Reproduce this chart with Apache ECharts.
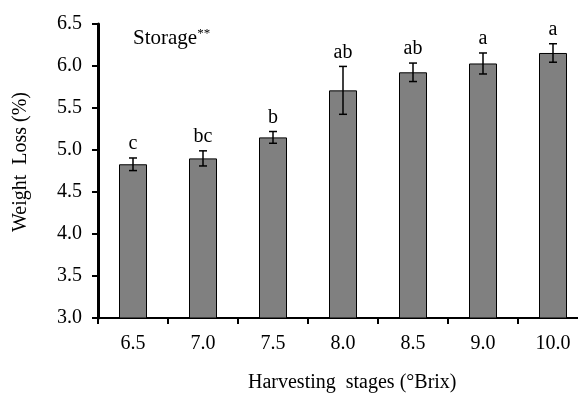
<!DOCTYPE html>
<html>
<head>
<meta charset="utf-8">
<script src="https://cdn.jsdelivr.net/npm/echarts@6/dist/echarts.min.js"></script>
<style>html,body{margin:0;padding:0;background:#fff;overflow:hidden;width:578px;height:395px;}#c{width:600px;height:395px;}</style>
</head>
<body>
<div id="c"></div>
<script>
var categories = ['6.5', '7.0', '7.5', '8.0', '8.5', '9.0', '10.0'];
var weightLoss = [4.83, 4.90, 5.15, 5.71, 5.925, 6.03, 6.155];
var errors = [0.075, 0.09, 0.07, 0.285, 0.11, 0.125, 0.11];
var letters = ['c', 'bc', 'b', 'ab', 'ab', 'a', 'a'];

var FONT = '"Liberation Serif", "Times New Roman", serif';
var chart = echarts.init(document.getElementById('c'), null, {renderer: 'canvas'});

var errData = categories.map(function (c, i) { return [i, weightLoss[i], errors[i]]; });

chart.setOption({
  animation: false,
  backgroundColor: '#fff',
  textStyle: {fontFamily: FONT, color: '#000'},
  grid: {left: 98, top: 24, right: 12, bottom: 77, containLabel: false},
  title: {
    left: 128, top: 22,
    text: '{a|Storage}{b|**}',
    textStyle: {
      rich: {
        a: {fontFamily: FONT, fontSize: 21, color: '#000', lineHeight: 22, fontWeight: 'normal'},
        b: {fontFamily: FONT, fontSize: 13, color: '#000', lineHeight: 22, verticalAlign: 'top', fontWeight: 'normal'}
      }
    }
  },
  graphic: [
    {type: 'text', left: 349 - 101, top: 373,
      style: {text: 'Harvesting  stages (°Brix)', font: '20px ' + FONT, fill: '#000'}},
    {type: 'text', x: 21, y: 162, rotation: Math.PI / 2,
      style: {text: 'Weight  Loss (%)', font: '20px ' + FONT, fill: '#000', align: 'center', verticalAlign: 'middle'}}
  ],
  xAxis: {
    type: 'category',
    data: categories,
    axisLine: {lineStyle: {color: '#000', width: 2}},
    axisTick: {show: true, length: 6, lineStyle: {color: '#000', width: 2}},
    axisLabel: {fontFamily: FONT, fontSize: 20, color: '#000', margin: 16}
  },
  yAxis: {
    type: 'value',
    min: 3.0, max: 6.5, interval: 0.5,
    axisLine: {show: true, lineStyle: {color: '#000', width: 3}},
    axisTick: {show: true, length: 6, lineStyle: {color: '#000', width: 2}},
    splitLine: {show: false},
    axisLabel: {fontFamily: FONT, fontSize: 20, color: '#000', margin: 16,
      formatter: function (v) { return v.toFixed(1); }}
  },
  series: [
    {
      type: 'bar',
      data: weightLoss,
      barWidth: 28,
      itemStyle: {color: '#808080', borderColor: '#000', borderWidth: 1}
    },
    {
      type: 'custom',
      data: errData,
      z: 10,
      renderItem: function (params, api) {
        var i = api.value(0), v = api.value(1), e = api.value(2);
        var top = api.coord([i, v + e]);
        var bot = api.coord([i, v - e]);
        var hw = 4;
        var st = {stroke: '#000', lineWidth: 1.5};
        return {
          type: 'group',
          children: [
            {type: 'line', shape: {x1: top[0], y1: top[1], x2: bot[0], y2: bot[1]}, style: st},
            {type: 'line', shape: {x1: top[0] - hw, y1: top[1], x2: top[0] + hw, y2: top[1]}, style: st},
            {type: 'line', shape: {x1: bot[0] - hw, y1: bot[1], x2: bot[0] + hw, y2: bot[1]}, style: st},
            {type: 'text', style: {text: letters[params.dataIndex], x: top[0], y: top[1] - 4,
              align: 'center', verticalAlign: 'bottom', font: '20px ' + FONT, fill: '#000'}}
          ]
        };
      }
    }
  ]
});
</script>
</body>
</html>
